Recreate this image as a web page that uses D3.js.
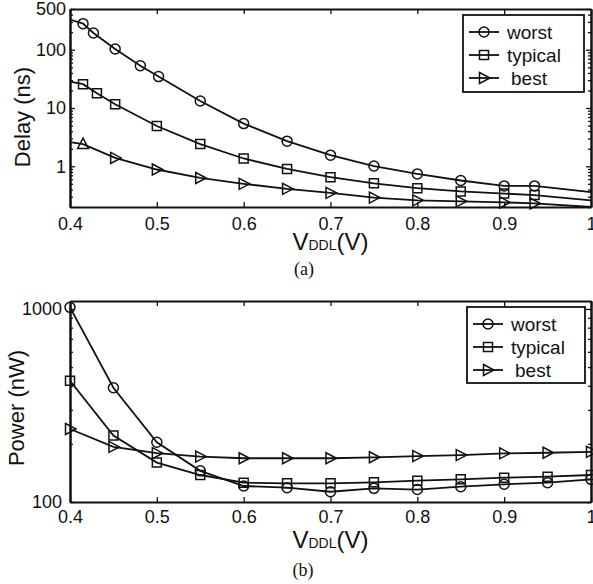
<!DOCTYPE html>
<html>
<head>
<meta charset="utf-8">
<script src="https://cdn.jsdelivr.net/npm/d3@7"></script>
<style>
  body { margin: 0; background: #fff; }
  svg { display: block; font-family: 'Liberation Sans', Arial, sans-serif; }
</style>
</head>
<body>
<svg id="chart" width="593" height="584"></svg>
<script>
// x ticks shared by both panels
const xTicks = [0.4, 0.5, 0.6, 0.7, 0.8, 0.9, 1];

// panel (a): delay in ns (end points at 0.4 and 1.0 carry no marker)
const worstDelayX = [0.4, 0.415, 0.427, 0.452, 0.481, 0.502, 0.55, 0.6, 0.65, 0.7, 0.75, 0.8, 0.85, 0.9, 0.935, 1.0];
const worstDelay = [330, 280, 194, 103, 53, 34.6, 13.2, 5.4, 2.7, 1.55, 1.01, 0.74, 0.57, 0.46, 0.46, 0.36];
const typicalDelayX = [0.4, 0.415, 0.431, 0.452, 0.5, 0.55, 0.6, 0.65, 0.7, 0.75, 0.8, 0.85, 0.9, 0.935, 1.0];
const typicalDelay = [28.4, 25.6, 17.9, 11.6, 4.9, 2.4, 1.36, 0.9, 0.65, 0.51, 0.42, 0.37, 0.34, 0.32, 0.26];
const bestDelayX = [0.4, 0.415, 0.452, 0.5, 0.55, 0.6, 0.65, 0.7, 0.75, 0.8, 0.85, 0.9, 0.935, 1.0];
const bestDelay = [2.6, 2.4, 1.39, 0.88, 0.63, 0.5, 0.41, 0.35, 0.29, 0.26, 0.25, 0.24, 0.23, 0.2];
const delayMarked = [0.41, 0.95];
const delayTicks = [1, 10, 100, 500];
const delayMinor = [0.2, 0.3, 0.4, 0.5, 0.6, 0.7, 0.8, 0.9, 2, 3, 4, 5, 6, 7, 8, 9,
  20, 30, 40, 50, 60, 70, 80, 90, 200, 300, 400];

// panel (b): power in nW
const powerX = [0.4, 0.45, 0.5, 0.55, 0.6, 0.65, 0.7, 0.75, 0.8, 0.85, 0.9, 0.95, 1.0];
const worstPower = [1020, 391, 204, 145, 121, 118.6, 113, 117.7, 116, 120, 123.5, 125.9, 131];
const typicalPower = [425, 221, 160, 138, 126, 125, 125, 126.5, 129, 131, 133.6, 135.2, 138];
const bestPower = [239, 193, 179, 172, 168.5, 168.5, 168.5, 170.5, 173, 175, 178.7, 180, 182];
const powerTicks = [100, 1000];
const powerMinor = [200, 300, 400, 500, 600, 700, 800, 900];

const seriesNames = ['worst', 'typical', 'best'];

const svg = d3.select('#chart');

const markerPath = {
  circle: 'M 5 0 A 5 5 0 1 1 -5 0 A 5 5 0 1 1 5 0 Z',
  square: 'M -4.5 -4.5 H 4.5 V 4.5 H -4.5 Z',
  right: 'M -4.5 -5.5 L 6 0 L -4.5 5.5 Z',
  up: 'M -5.5 4.5 L 0 -6 L 5.5 4.5 Z',
};
const seriesMarker = ['circle', 'square', 'right'];

function drawPanel(cfg) {
  const { left, right, top, bottom } = cfg.box;
  const g = svg.append('g');

  const xScale = d3.scaleLinear().domain([0.4, 1]).range([left, right]);
  const yScale = d3.scaleLog().domain(cfg.yDomain).range([bottom, top]);

  const axes = g.append('g');
  axes.append('g')
    .attr('transform', `translate(0 ${bottom})`)
    .call(d3.axisBottom(xScale).tickValues(xTicks).tickSizeInner(-5).tickSizeOuter(0)
      .tickPadding(cfg.xPad).tickFormat(d => (d === 1 ? '1' : d.toFixed(1))));
  axes.append('g')
    .attr('transform', `translate(0 ${top})`)
    .call(d3.axisTop(xScale).tickValues(xTicks).tickSizeInner(-5).tickSizeOuter(0).tickFormat(''));
  axes.append('g')
    .attr('transform', `translate(${left} 0)`)
    .call(d3.axisLeft(yScale).tickValues(cfg.yTicks).tickSizeInner(-5).tickSizeOuter(0)
      .tickPadding(cfg.yPad).tickFormat(d3.format('d')));
  axes.append('g')
    .attr('transform', `translate(${right} 0)`)
    .call(d3.axisRight(yScale).tickValues(cfg.yTicks).tickSizeInner(-5).tickSizeOuter(0).tickFormat(''));
  axes.append('g')
    .attr('transform', `translate(${left} 0)`)
    .call(d3.axisLeft(yScale).tickValues(cfg.yMinor).tickSizeInner(-3).tickSizeOuter(0).tickFormat(''));
  axes.append('g')
    .attr('transform', `translate(${right} 0)`)
    .call(d3.axisRight(yScale).tickValues(cfg.yMinor).tickSizeInner(-3).tickSizeOuter(0).tickFormat(''));

  axes.selectAll('path.domain').attr('stroke', '#111').attr('stroke-width', 2);
  axes.selectAll('.tick line').attr('stroke', '#111').attr('stroke-width', 1.3);
  axes.selectAll('.tick text').attr('fill', '#111').attr('font-size', 18)
    .attr('font-family', "'Liberation Sans', Arial, sans-serif");

  // y label
  g.append('text')
    .attr('transform', `translate(${cfg.yLabelPos[0]} ${cfg.yLabelPos[1]}) rotate(-90)`)
    .attr('text-anchor', 'middle')
    .attr('dominant-baseline', 'central')
    .attr('font-size', 22)
    .attr('fill', '#111')
    .text(cfg.yLabel);

  // x label
  const xl = g.append('text')
    .attr('x', (left + right) / 2)
    .attr('y', cfg.xLabelY)
    .attr('text-anchor', 'middle')
    .attr('fill', '#111');
  xl.append('tspan').attr('font-size', 24).text('V');
  xl.append('tspan').attr('font-size', 14).text('DDL');
  xl.append('tspan').attr('font-size', 24).text('(V)');

  // caption
  g.append('text')
    .attr('x', cfg.caption[0])
    .attr('y', cfg.caption[1])
    .attr('text-anchor', 'middle')
    .attr('font-family', "'Liberation Serif', 'Times New Roman', serif")
    .attr('font-size', 18)
    .attr('fill', '#111')
    .text(cfg.captionText);

  // series
  const line = d3.line().x(d => xScale(d.x)).y(d => yScale(d.y));
  const dataG = g.append('g');
  cfg.series.forEach((s, i) => {
    const pts = s.x.map((x, j) => ({ x, y: s.y[j] }));
    dataG.append('path')
      .attr('d', line(pts))
      .attr('fill', 'none')
      .attr('stroke', '#111')
      .attr('stroke-width', 1.8);
    const marked = pts.filter(d => d.x >= cfg.marked[0] && d.x <= cfg.marked[1]);
    dataG.selectAll(null)
      .data(marked)
      .join('path')
      .attr('transform', d => `translate(${xScale(d.x)} ${yScale(d.y)})`)
      .attr('d', (d, j) => markerPath[(s.firstMarker && j === 0) ? s.firstMarker : seriesMarker[i]])
      .attr('fill', 'none')
      .attr('stroke', '#111')
      .attr('stroke-width', 1.5);
  });

  // legend
  const lg = cfg.legend;
  const leg = g.append('g');
  leg.append('rect')
    .attr('x', lg.x).attr('y', lg.y).attr('width', lg.w).attr('height', lg.h)
    .attr('fill', '#fff').attr('stroke', '#111').attr('stroke-width', 1.8);
  seriesNames.forEach((name, i) => {
    const cy = lg.y + 17 + i * 23;
    leg.append('line')
      .attr('x1', lg.x + 6).attr('x2', lg.x + 36).attr('y1', cy).attr('y2', cy)
      .attr('stroke', '#111').attr('stroke-width', 1.8);
    leg.append('path')
      .attr('transform', `translate(${lg.x + 21} ${cy})`)
      .attr('d', markerPath[seriesMarker[i]])
      .attr('fill', 'none').attr('stroke', '#111').attr('stroke-width', 1.5);
    leg.append('text')
      .attr('x', lg.x + (i === 2 ? 48 : 44))
      .attr('y', cy + 6.5)
      .attr('font-size', 19)
      .attr('fill', '#111')
      .text(name);
  });
}

drawPanel({
  box: { left: 70, right: 591, top: 9, bottom: 207 },
  yDomain: [0.2, 500],
  yTicks: delayTicks,
  yMinor: delayMinor,
  xPad: 10,
  yPad: 4,
  yLabel: 'Delay (ns)',
  yLabelPos: [22, 117],
  xLabelY: 250,
  caption: [304, 275],
  captionText: '(a)',
  marked: delayMarked,
  series: [
    { x: worstDelayX, y: worstDelay },
    { x: typicalDelayX, y: typicalDelay },
    { x: bestDelayX, y: bestDelay, firstMarker: 'up' },
  ],
  legend: { x: 463, y: 15, w: 121, h: 77 },
});

drawPanel({
  box: { left: 70, right: 591, top: 301, bottom: 502 },
  yDomain: [100, 1100],
  yTicks: powerTicks,
  yMinor: powerMinor,
  xPad: 8,
  yPad: 8,
  yLabel: 'Power (nW)',
  yLabelPos: [16, 408],
  xLabelY: 548,
  caption: [303, 576],
  captionText: '(b)',
  marked: [0.4, 1.0],
  series: [
    { x: powerX, y: worstPower },
    { x: powerX, y: typicalPower },
    { x: powerX, y: bestPower },
  ],
  legend: { x: 467, y: 307, w: 118, h: 76 },
});
</script>
</body>
</html>
